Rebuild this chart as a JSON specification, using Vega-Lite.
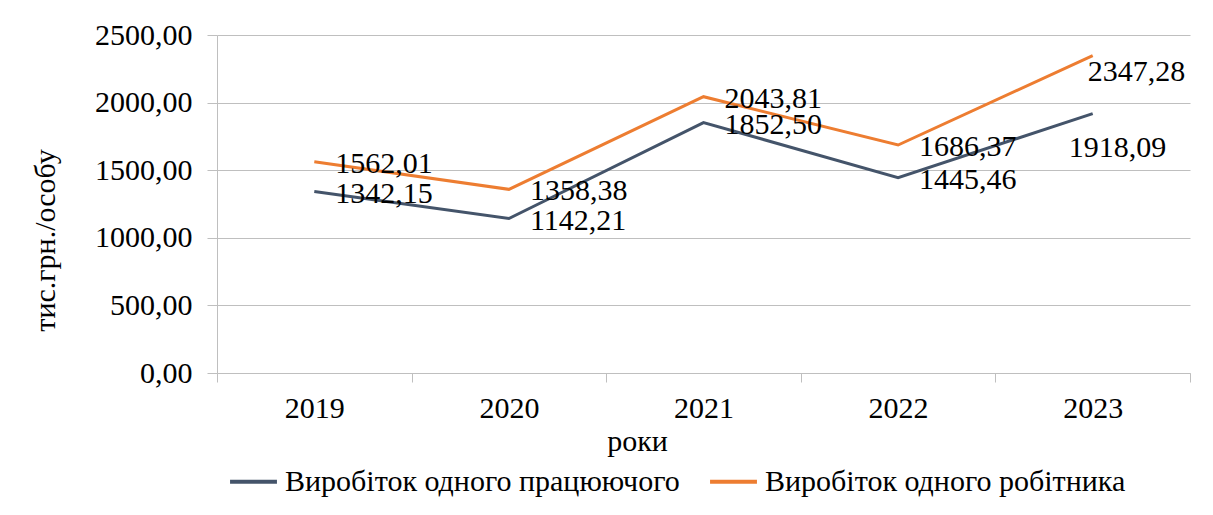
{
  "$schema": "https://vega.github.io/schema/vega-lite/v6.json",
  "width": 973,
  "height": 338,
  "autosize": {"type": "none"},
  "padding": {"left": 217, "top": 35, "right": 23, "bottom": 142},
  "background": "white",
  "config": {
    "font": "Liberation Serif",
    "view": {"stroke": null},
    "locale": {"number": {"decimal": ",", "thousands": "", "grouping": [3], "currency": ["", ""]}}
  },
  "data": {
    "values": [
      {"year": "2019", "series": "Виробіток одного працюючого", "value": 1342.15},
      {"year": "2020", "series": "Виробіток одного працюючого", "value": 1142.21},
      {"year": "2021", "series": "Виробіток одного працюючого", "value": 1852.50},
      {"year": "2022", "series": "Виробіток одного працюючого", "value": 1445.46},
      {"year": "2023", "series": "Виробіток одного працюючого", "value": 1918.09},
      {"year": "2019", "series": "Виробіток одного робітника", "value": 1562.01},
      {"year": "2020", "series": "Виробіток одного робітника", "value": 1358.38},
      {"year": "2021", "series": "Виробіток одного робітника", "value": 2043.81},
      {"year": "2022", "series": "Виробіток одного робітника", "value": 1686.37},
      {"year": "2023", "series": "Виробіток одного робітника", "value": 2347.28}
    ]
  },
  "encoding": {
    "x": {
      "field": "year", "type": "ordinal",
      "scale": {"type": "band", "paddingInner": 0, "paddingOuter": 0},
      "axis": {
        "title": "роки", "titleFontSize": 30, "titleFontWeight": "normal", "titleColor": "black",
        "titleX": 420, "titleY": 77, "titleAlign": "center", "titleBaseline": "alphabetic",
        "labelAngle": 0, "labelFontSize": 30, "labelColor": "black", "labelPadding": 11,
        "tickBand": "extent", "tickSize": 9, "tickColor": "#BFBFBF", "domainColor": "#BFBFBF",
        "grid": false
      }
    },
    "y": {
      "field": "value", "type": "quantitative",
      "scale": {"domain": [0, 2500], "nice": false, "zero": true},
      "axis": {
        "values": [0, 500, 1000, 1500, 2000, 2500],
        "format": ".2f",
        "title": "тис.грн./особу", "titleFontSize": 30, "titleFontWeight": "normal", "titleColor": "black",
        "titleX": -172, "titleY": 205, "titleAngle": 270, "titleAlign": "center", "titleBaseline": "middle",
        "labelFontSize": 30, "labelColor": "black", "labelPadding": 15,
        "tickSize": 10, "tickColor": "#BFBFBF", "domainColor": "#BFBFBF",
        "grid": true, "gridColor": "#BFBFBF", "gridWidth": 1
      }
    },
    "color": {
      "field": "series", "type": "nominal",
      "scale": {"domain": ["Виробіток одного працюючого", "Виробіток одного робітника"], "range": ["#44546A", "#ED7D31"]},
      "legend": {
        "title": null, "orient": "none", "direction": "horizontal",
        "legendX": 11, "legendY": 421,
        "symbolType": "stroke", "symbolSize": 2200, "symbolStrokeWidth": 4,
        "labelFontSize": 30, "labelColor": "black", "labelOffset": 6,
        "columnPadding": 22, "labelLimit": 600
      }
    }
  },
  "layer": [
    {"mark": {"type": "line", "strokeWidth": 3}},
    {
      "transform": [{"filter": "datum.year != '2023'"}],
      "mark": {"type": "text", "align": "left", "baseline": "middle", "dx": 21, "dy": 2, "fontSize": 30},
      "encoding": {"text": {"field": "value", "type": "quantitative", "format": ".2f"}, "color": {"value": "black"}}
    },
    {
      "transform": [{"filter": "datum.year == '2023' && datum.series == 'Виробіток одного робітника'"}],
      "mark": {"type": "text", "align": "left", "baseline": "middle", "dx": -5, "dy": 16, "fontSize": 30},
      "encoding": {"text": {"field": "value", "type": "quantitative", "format": ".2f"}, "color": {"value": "black"}}
    },
    {
      "transform": [{"filter": "datum.year == '2023' && datum.series == 'Виробіток одного працюючого'"}],
      "mark": {"type": "text", "align": "left", "baseline": "middle", "dx": -24, "dy": 34, "fontSize": 30},
      "encoding": {"text": {"field": "value", "type": "quantitative", "format": ".2f"}, "color": {"value": "black"}}
    }
  ]
}
